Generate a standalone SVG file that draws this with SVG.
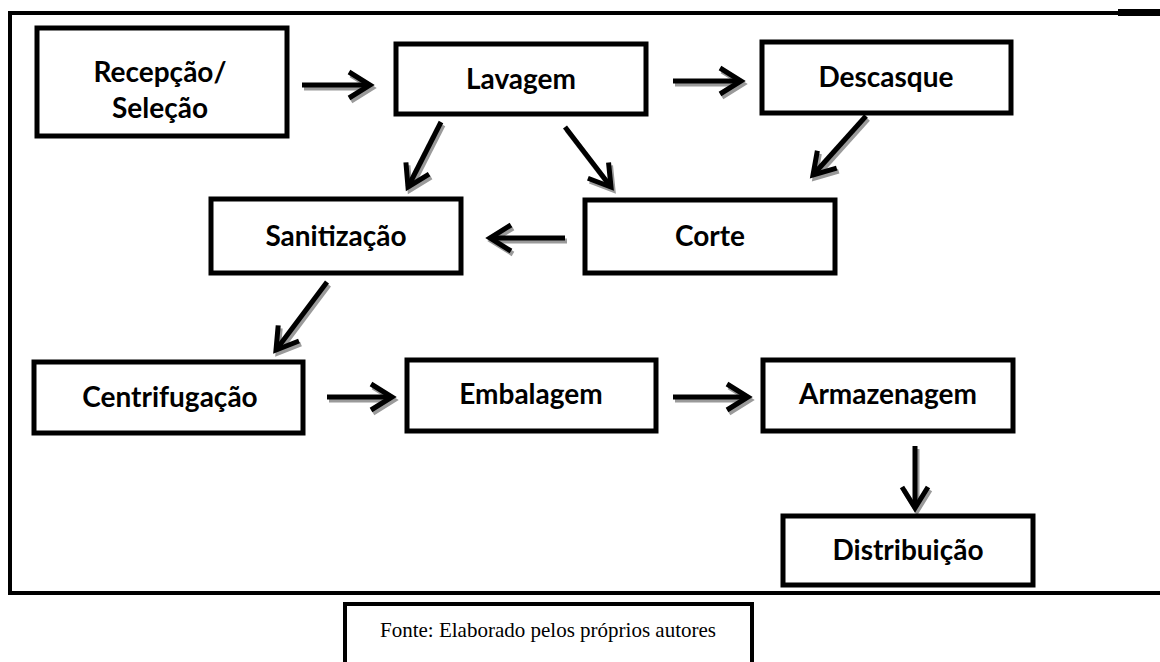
<svg xmlns="http://www.w3.org/2000/svg" width="1160" height="662" viewBox="0 0 1160 662">
<style>
.box{fill:#fff;stroke:#000;stroke-width:5}
.lbl{font-family:Lato,"Liberation Sans",sans-serif;font-weight:bold;font-size:28px;fill:#000;text-anchor:middle}
.cap{font-family:"Liberation Serif",serif;font-size:21px;fill:#000;text-anchor:middle}
.frame{fill:none;stroke:#000;stroke-width:4}
.shaft{fill:none;stroke:#000;stroke-width:5;marker-end:url(#head)}
.shadow{fill:none;stroke:#9a9a9a;stroke-width:5;marker-end:url(#headS)}
</style>
<defs>
<marker id="head" markerUnits="userSpaceOnUse" orient="auto" refX="0" refY="0" markerWidth="40" markerHeight="40" viewBox="-30 -20 40 40" overflow="visible">
<path d="M-21,-13 L0,0 L-21,13" fill="none" stroke="#000" stroke-width="5"/>
</marker>
<marker id="headS" markerUnits="userSpaceOnUse" orient="auto" refX="0" refY="0" markerWidth="40" markerHeight="40" viewBox="-30 -20 40 40" overflow="visible">
<path d="M-21,-13 L0,0 L-21,13" fill="none" stroke="#9a9a9a" stroke-width="5"/>
</marker>
</defs>
<rect width="1160" height="662" fill="#fff"/>
<g id="frame">
<path class="frame" d="M1118,13 H10 V593 H1160"/>
<rect x="1118" y="9" width="42" height="7" fill="#000"/>
</g>
<g id="connectors">
<g transform="translate(2,3)">
<path class="shadow" d="M302,85 L370,85"/>
<path class="shadow" d="M673,81 L741,81"/>
<path class="shadow" d="M441,122 L408,187"/>
<path class="shadow" d="M565,127 L611,187"/>
<path class="shadow" d="M866,116 L813,175"/>
<path class="shadow" d="M565,238 L490,238"/>
<path class="shadow" d="M327,282 L276,350"/>
<path class="shadow" d="M327,397 L392,397"/>
<path class="shadow" d="M673,397 L748,397"/>
<path class="shadow" d="M915,446 L915,508"/>
</g>
<path class="shaft" d="M302,85 L370,85"/>
<path class="shaft" d="M673,81 L741,81"/>
<path class="shaft" d="M441,122 L408,187"/>
<path class="shaft" d="M565,127 L611,187"/>
<path class="shaft" d="M866,116 L813,175"/>
<path class="shaft" d="M565,238 L490,238"/>
<path class="shaft" d="M327,282 L276,350"/>
<path class="shaft" d="M327,397 L392,397"/>
<path class="shaft" d="M673,397 L748,397"/>
<path class="shaft" d="M915,446 L915,508"/>
</g>
<g id="recepcao">
<rect class="box" x="37" y="28" width="250" height="108"/>
<text class="lbl" x="160" y="82">Recepção/</text>
<text class="lbl" x="160" y="118">Seleção</text>
</g>
<g id="lavagem">
<rect class="box" x="396" y="44" width="250" height="70"/>
<text class="lbl" x="521" y="89">Lavagem</text>
</g>
<g id="descasque">
<rect class="box" x="762" y="42" width="249" height="71"/>
<text class="lbl" x="886" y="87">Descasque</text>
</g>
<g id="sanitizacao">
<rect class="box" x="211" y="199" width="250" height="74"/>
<text class="lbl" x="336" y="246">Sanitização</text>
</g>
<g id="corte">
<rect class="box" x="585" y="200" width="250" height="73"/>
<text class="lbl" x="710" y="246">Corte</text>
</g>
<g id="centrifugacao">
<rect class="box" x="34" y="362" width="269" height="71"/>
<text class="lbl" x="170" y="407">Centrifugação</text>
</g>
<g id="embalagem">
<rect class="box" x="407" y="360" width="249" height="71"/>
<text class="lbl" x="531" y="404">Embalagem</text>
</g>
<g id="armazenagem">
<rect class="box" x="763" y="360" width="250" height="71"/>
<text class="lbl" x="888" y="404">Armazenagem</text>
</g>
<g id="distribuicao">
<rect class="box" x="783" y="516" width="250" height="69"/>
<text class="lbl" x="908" y="560">Distribuição</text>
</g>
<g id="fonte">
<path d="M345,662 V604 H752 V662" fill="none" stroke="#000" stroke-width="4"/>
<text class="cap" x="548" y="637">Fonte: Elaborado pelos próprios autores</text>
</g>
</svg>
